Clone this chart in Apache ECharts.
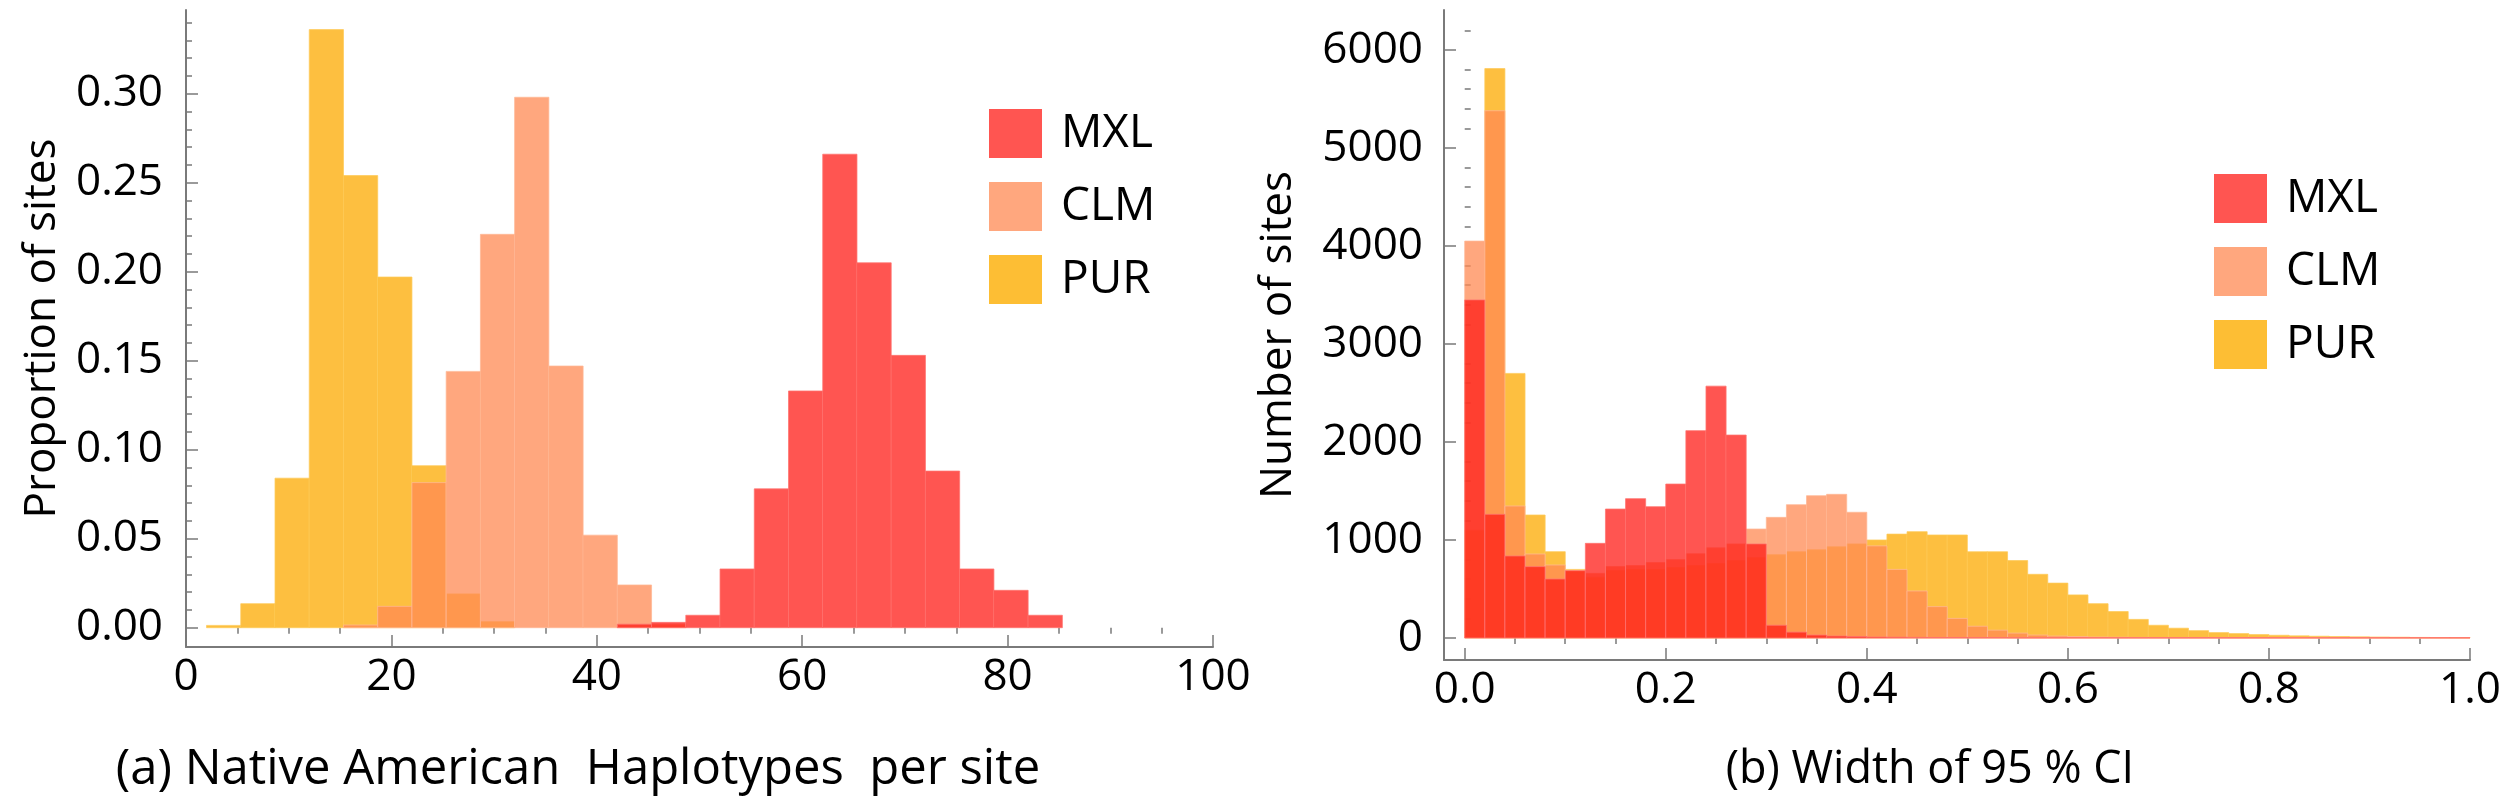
<!DOCTYPE html>
<html><head><meta charset="utf-8">
<script src="https://cdn.jsdelivr.net/npm/echarts@6/dist/echarts.min.js"></script>
<style>html,body{margin:0;padding:0;background:#fff}#c{width:2506px;height:800px}</style>
</head><body><div id="c"></div>
<script>
// ---------- data ----------
const populations = ['MXL', 'CLM', 'PUR'];

// (a) Native American haplotypes per site — histogram bin edges and proportions
const haploBinEdges = [2, 5.333, 8.667, 12, 15.333, 18.667, 22, 25.333, 28.667, 32, 35.333, 38.667, 42,
  45.333, 48.667, 52, 55.333, 58.667, 62, 65.333, 68.667, 72, 75.333, 78.667, 82, 85.333];
const haploMXL = [0, 0, 0, 0, 0, 0, 0, 0, 0, 0, 0, 0, 0.002, 0.003, 0.007, 0.033, 0.078, 0.133, 0.266, 0.205, 0.153, 0.088, 0.033, 0.021, 0.007];
const haploCLM = [0, 0, 0, 0, 0.0015, 0.012, 0.0815, 0.144, 0.221, 0.298, 0.147, 0.052, 0.024, 0.002, 0, 0, 0, 0, 0, 0, 0, 0, 0, 0, 0];
const haploPUR = [0.0013, 0.0135, 0.084, 0.336, 0.254, 0.197, 0.091, 0.019, 0.0034, 0, 0, 0, 0, 0, 0, 0, 0, 0, 0, 0, 0, 0, 0, 0, 0];
const haploXTicks = [0, 20, 40, 60, 80, 100];
const haploXMinor = [5, 10, 15, 25, 30, 35, 45, 50, 55, 65, 70, 75, 85, 90, 95];
const haploYTicks = [0, 0.05, 0.10, 0.15, 0.20, 0.25, 0.30];
const haploYMinor = [0.01, 0.02, 0.03, 0.04, 0.06, 0.07, 0.08, 0.09, 0.11, 0.12, 0.13, 0.14, 0.16, 0.17, 0.18, 0.19,
  0.21, 0.22, 0.23, 0.24, 0.26, 0.27, 0.28, 0.29, 0.31, 0.32, 0.33, 0.34];

// (b) Width of 95% CI — bins of width 0.02 from 0 to 1, counts
const ciBinWidth = 0.02;
const ciMXL = [3450, 1262, 837, 728, 602, 687, 966, 1316, 1422, 1340, 1571, 2116, 2570, 2071, 960,
  130, 60, 30, 20, 15, 10, 8, 6, 5, 5, 4, 4, 3, 3, 3, 3, 3, 3, 3, 3, 3, 3, 3, 3, 3, 3, 3, 3, 3, 3, 3, 3, 3, 3, 3];
const ciCLM = [4050, 5380, 1347, 857, 745, 690, 660, 730, 740, 770, 800, 860, 920, 960, 1112, 1231, 1360, 1452, 1466, 1283,
  940, 700, 480, 320, 200, 120, 80, 50, 30, 20, 15, 10, 8, 6, 5, 4, 3, 3, 2, 2, 2, 2, 1, 1, 1, 1, 1, 1, 1, 1];
const ciPUR = [1100, 5810, 2700, 1255, 881, 700, 620, 690, 700, 700, 720, 740, 760, 790, 820, 850, 880, 900, 930, 960,
  1000, 1060, 1085, 1051, 1051, 880, 880, 790, 650, 560, 440, 350, 270, 190, 130, 100, 75, 55, 45, 35,
  28, 22, 18, 15, 12, 10, 8, 6, 5, 4];
const ciXTicks = [0, 0.2, 0.4, 0.6, 0.8, 1.0];
const ciXMinor = [0.05, 0.1, 0.15, 0.25, 0.3, 0.35, 0.45, 0.5, 0.55, 0.65, 0.7, 0.75, 0.85, 0.9, 0.95];
const ciYTicks = [0, 1000, 2000, 3000, 4000, 5000, 6000];
const ciYMinor = [200, 400, 600, 800, 1200, 1400, 1600, 1800, 2200, 2400, 2600, 2800, 3200, 3400, 3600, 3800,
  4200, 4400, 4600, 4800, 5200, 5400, 5600, 5800, 6200];

// ---------- styling ----------
const FONT = '"Open Sans", "Liberation Sans", sans-serif';
const AXIS_COL = '#7a7a7a';
const fillCol = { MXL: 'rgb(255,28,23)', CLM: 'rgb(255,138,83)', PUR: 'rgb(252,170,0)' };
const legendCol = { MXL: '#FF5551', CLM: '#FFA77E', PUR: '#FDBE34' };
const edgeCol = { MXL: '#FF7470', CLM: '#FFB895', PUR: '#FDCB5A' };

function barRenderer(name) {
  return function (params, api) {
    const y = api.value(2);
    const p0 = api.coord([api.value(0), y]);
    const p1 = api.coord([api.value(1), 0]);
    return {
      type: 'rect',
      shape: { x: p0[0], y: p0[1], width: p1[0] - p0[0], height: p1[1] - p0[1] },
      style: { fill: fillCol[name], stroke: edgeCol[name], lineWidth: 1, opacity: 0.75 }
    };
  };
}

function mainAxis(o) {
  return Object.assign({
    type: 'value',
    splitLine: { show: false },
    axisLine: { show: true, onZero: false, lineStyle: { color: AXIS_COL, width: 2 } },
    axisTick: { show: true, inside: true, length: 12, lineStyle: { color: AXIS_COL, width: 1.5 } },
    axisLabel: { color: '#000', fontSize: 44, fontFamily: FONT }
  }, o);
}
function minorAxis(o) {
  return Object.assign({
    type: 'value',
    splitLine: { show: false },
    axisLine: { show: false },
    axisLabel: { show: false },
    axisTick: { show: true, inside: true, length: 6, lineStyle: { color: AXIS_COL, width: 1.5 } }
  }, o);
}

const haploData = { MXL: haploMXL, CLM: haploCLM, PUR: haploPUR };
const ciData = { MXL: ciMXL, CLM: ciCLM, PUR: ciPUR };

const drawOrder = ['PUR', 'CLM', 'MXL'];
const series = [];
drawOrder.forEach(function (name) {
  series.push({
    type: 'custom', name: name, xAxisIndex: 0, yAxisIndex: 0,
    renderItem: barRenderer(name),
    itemStyle: { color: legendCol[name] },
    encode: { x: [0, 1], y: 2 },
    data: haploData[name].map(function (v, i) { return [haploBinEdges[i], haploBinEdges[i + 1], v]; })
      .filter(function (d) { return d[2] > 0; })
  });
});
drawOrder.forEach(function (name) {
  series.push({
    type: 'custom', name: name, xAxisIndex: 2, yAxisIndex: 2,
    renderItem: barRenderer(name),
    itemStyle: { color: legendCol[name] },
    encode: { x: [0, 1], y: 2 },
    data: ciData[name].map(function (v, i) { return [i * ciBinWidth, (i + 1) * ciBinWidth, v]; })
  });
});

const legendData = populations.map(function (n) { return { name: n, itemStyle: { color: legendCol[n], opacity: 1 } }; });
function legend(left, top) {
  return {
    data: legendData, orient: 'vertical', left: left, top: top, padding: 0,
    itemWidth: 53, itemHeight: 49, itemGap: 24, icon: 'rect', selectedMode: false,
    textStyle: { fontSize: 46, fontFamily: FONT, color: '#000', padding: [0, 0, 0, 14] }
  };
}

const hMin = -0.01084, hMax = 0.34702;
const cMin = -224.5, cMax = 6408;

const option = {
  animation: false,
  backgroundColor: '#fff',
  grid: [
    { left: 186, top: 10, width: 1027, height: 637 },
    { left: 1444, top: 10, width: 1026, height: 650 }
  ],
  xAxis: [
    mainAxis({ gridIndex: 0, min: 0, max: 100,
      axisLabel: { color: '#000', fontSize: 44, fontFamily: FONT, margin: 8, customValues: haploXTicks, formatter: function (v) { return String(v); } },
      axisTick: { show: true, inside: true, length: 12, customValues: haploXTicks, lineStyle: { color: AXIS_COL, width: 1.5 } } }),
    minorAxis({ gridIndex: 0, min: 0, max: 100,
      axisTick: { show: true, inside: true, length: 6, customValues: haploXMinor, lineStyle: { color: AXIS_COL, width: 1.5 } } }),
    mainAxis({ gridIndex: 1, min: -0.0206, max: 1.0,
      axisLabel: { color: '#000', fontSize: 44, fontFamily: FONT, margin: 8, customValues: ciXTicks, formatter: function (v) { return v.toFixed(1); } },
      axisTick: { show: true, inside: true, length: 12, customValues: ciXTicks, lineStyle: { color: AXIS_COL, width: 1.5 } } }),
    minorAxis({ gridIndex: 1, min: -0.0206, max: 1.0,
      axisTick: { show: true, inside: true, length: 6, customValues: ciXMinor, lineStyle: { color: AXIS_COL, width: 1.5 } } })
  ],
  yAxis: [
    mainAxis({ gridIndex: 0, position: 'left', min: hMin, max: hMax,
      name: 'Proportion of sites', nameLocation: 'middle', nameRotate: 90, nameGap: 122,
      nameTextStyle: { fontSize: 44, fontFamily: FONT, color: '#000' },
      axisLabel: { color: '#000', fontSize: 44, fontFamily: FONT, margin: 23, customValues: haploYTicks, formatter: function (v) { return v.toFixed(2); } },
      axisTick: { show: true, inside: true, length: 12, customValues: haploYTicks, lineStyle: { color: AXIS_COL, width: 1.5 } } }),
    minorAxis({ gridIndex: 0, position: 'left', min: hMin, max: hMax,
      axisTick: { show: true, inside: true, length: 6, customValues: haploYMinor, lineStyle: { color: AXIS_COL, width: 1.5 } } }),
    mainAxis({ gridIndex: 1, position: 'left', min: cMin, max: cMax,
      name: 'Number of sites', nameLocation: 'middle', nameRotate: 90, nameGap: 144,
      nameTextStyle: { fontSize: 44, fontFamily: FONT, color: '#000' },
      axisLabel: { color: '#000', fontSize: 44, fontFamily: FONT, margin: 21, customValues: ciYTicks, formatter: function (v) { return String(v); } },
      axisTick: { show: true, inside: true, length: 12, customValues: ciYTicks, lineStyle: { color: AXIS_COL, width: 1.5 } } }),
    minorAxis({ gridIndex: 1, position: 'left', min: cMin, max: cMax,
      axisTick: { show: true, inside: true, length: 6, customValues: ciYMinor, lineStyle: { color: AXIS_COL, width: 1.5 } } })
  ],
  legend: [legend(989, 109), legend(2214, 174)],
  graphic: [
    { type: 'text', x: 578, y: 770, style: { text: '(a) Native American  Haplotypes  per site', font: '49px ' + FONT, fill: '#000', align: 'center', verticalAlign: 'middle' } },
    { type: 'text', x: 1930, y: 770, style: { text: '(b) Width of 95 % CI', font: '45px ' + FONT, fill: '#000', align: 'center', verticalAlign: 'middle' } }
  ],
  series: series
};

const chart = echarts.init(document.getElementById('c'));
chart.setOption(option);
</script>
</body></html>
